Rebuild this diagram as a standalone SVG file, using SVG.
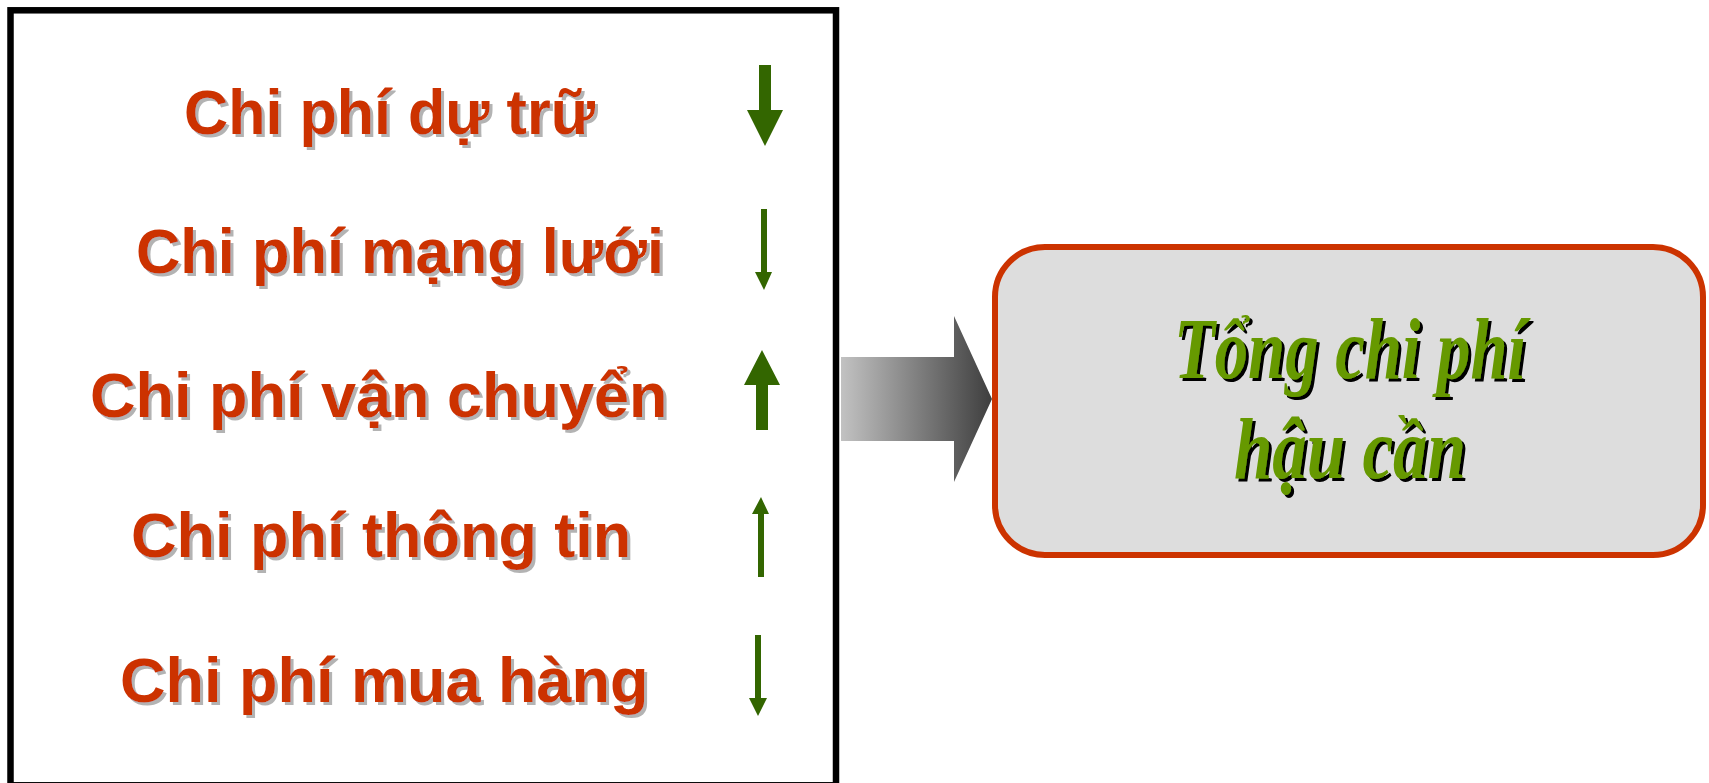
<svg xmlns="http://www.w3.org/2000/svg" width="1709" height="783" viewBox="0 0 1709 783">
  <style>
    .cost { font-family: "Liberation Sans", Arial, sans-serif; font-weight: bold; font-size: 63px; fill: #CC3300; filter: url(#greyShadow); }
    .trend { fill: #336600; }
    .total { font-family: "Liberation Serif", "DejaVu Serif", serif; font-style: italic; font-weight: bold; font-size: 86px; fill: #669900; filter: url(#blackShadow); }
  </style>
  <defs>
    <filter id="greyShadow" x="-5%" y="-20%" width="110%" height="140%">
      <feDropShadow dx="3" dy="3" stdDeviation="0" flood-color="#B3B3B3" flood-opacity="1"/>
    </filter>
    <filter id="blackShadow" x="-5%" y="-20%" width="110%" height="140%">
      <feDropShadow dx="3" dy="3" stdDeviation="0" flood-color="#000000" flood-opacity="1"/>
    </filter>
    <linearGradient id="blockFill" x1="841" y1="0" x2="992" y2="0" gradientUnits="userSpaceOnUse">
      <stop offset="0" stop-color="#C2C2C2"/>
      <stop offset="1" stop-color="#3E3E3E"/>
    </linearGradient>
  </defs>

  <rect width="1709" height="783" fill="#FFFFFF"/>

  <!-- cost components panel -->
  <g id="cost-panel">
    <rect x="10.5" y="10.3" width="825.5" height="775" fill="#FFFFFF" stroke="#000000" stroke-width="6.5"/>
  </g>

  <g id="inventory-cost">
    <text class="cost" x="184" y="134" textLength="411" lengthAdjust="spacingAndGlyphs">Chi phí dự trữ</text>
    <polygon class="trend" points="759,65 771,65 771,110 783,110 765,146 747,110 759,110"/>
  </g>

  <g id="network-cost">
    <text class="cost" x="136" y="273" textLength="528" lengthAdjust="spacingAndGlyphs">Chi phí mạng lưới</text>
    <polygon class="trend" points="761,209 767,209 767,272 772,272 764,290 755,272 761,272"/>
  </g>

  <g id="transport-cost">
    <text class="cost" x="90" y="417">Chi phí vận chuyển</text>
    <polygon class="trend" points="762,350 780,385 768,385 768,430 756,430 756,385 744,385"/>
  </g>

  <g id="information-cost">
    <text class="cost" x="131" y="557">Chi phí thông tin</text>
    <polygon class="trend" points="761,497 769,514 764,514 764,577 758,577 758,514 752,514"/>
  </g>

  <g id="purchasing-cost">
    <text class="cost" x="120" y="702">Chi phí mua hàng</text>
    <polygon class="trend" points="755,635 761,635 761,698 767,698 758,716 749,698 755,698"/>
  </g>

  <!-- connector into the total -->
  <g id="connectors">
    <polygon points="841,357 954,357 954,316 992,399 954,482 954,441 841,441" fill="url(#blockFill)"/>
  </g>

  <!-- total logistics cost -->
  <g id="total-cost">
    <rect x="995" y="247" width="708" height="308" rx="50" ry="50" fill="#DDDDDD" stroke="#CC3300" stroke-width="6"/>
    <text class="total" x="1350" y="378" text-anchor="middle" textLength="352" lengthAdjust="spacingAndGlyphs">Tổng chi phí</text>
    <text class="total" x="1350" y="478" text-anchor="middle" textLength="232" lengthAdjust="spacingAndGlyphs">hậu cần</text>
  </g>
</svg>
